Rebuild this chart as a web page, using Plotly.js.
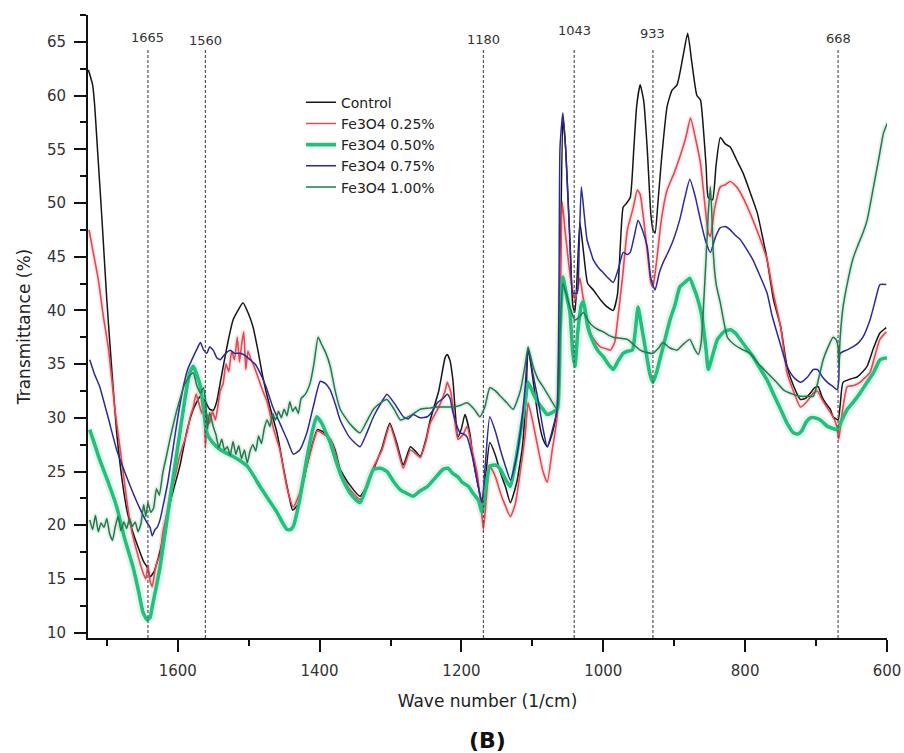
<!DOCTYPE html>
<html>
<head>
<meta charset="utf-8">
<script src="https://cdn.plot.ly/plotly-3.0.1.min.js"></script>
<style>html,body{margin:0;padding:0;background:#fff;}#chart{width:904px;height:753px;}</style>
</head>
<body>
<div id="chart"></div>
<script>
// ---- Data ----
const seriesNames = ["Control", "Fe3O4 0.25%", "Fe3O4 0.50%", "Fe3O4 0.75%", "Fe3O4 1.00%"];

const controlWn = [1726,1720,1717,1714,1707,1700,1693,1686,1678,1671,1663,1655,1648,1643,1639,1634,1628,1621,1610,1597,1587,1578,1568,1561,1555,1550,1545,1540,1530,1522,1515,1508,1501,1494,1487,1480,1470,1460,1450,1442,1438,1430,1418,1410,1403,1395,1385,1378,1371,1358,1343,1334,1324,1312,1301,1291,1282,1272,1265,1258,1250,1244,1232,1223,1220,1216,1212,1205,1200,1195,1188,1184,1176,1171,1166,1160,1152,1145,1138,1131,1122,1114,1109,1106,1100,1092,1085,1079,1071,1065,1061,1057,1053,1048,1043,1040,1037,1033,1028,1022,1014,1004,994,986,980,976,972,967,962,957,953,948,943,938,933,930,927,923,918,910,903,896,888,881,875,868,863,859,855,852,846,841,835,828,821,812,803,793,783,776,769,760,750,741,732,722,715,708,702,697,692,687,680,676,669,666,662,652,642,634,628,619,610,601];
const controlT = [62.4,61.0,59.0,55.9,48.7,41.0,34.5,28.6,24.0,21.2,19.3,17.8,16.6,16.1,15.2,15.6,16.8,18.7,22.3,25.5,28.8,30.8,32.0,31.5,30.8,30.7,31.5,33.3,36.8,39.1,40.0,40.7,39.8,38.5,36.3,33.8,31.0,28.6,25.0,22.4,21.4,22.0,25.5,27.6,28.9,28.7,28.0,27.0,25.2,23.8,22.7,23.6,25.2,27.2,29.5,27.6,25.6,27.3,26.9,26.4,28.0,29.8,32.5,35.6,35.9,35.3,33.5,28.2,29.0,30.3,28.5,26.4,23.5,22.1,24.5,27.7,26.5,24.9,23.6,22.1,24.0,27.3,32.0,36.5,34.0,30.1,28.0,27.3,28.8,30.8,41.0,58.0,55.0,48.0,40.5,39.8,43.0,48.2,45.5,42.5,41.9,41.0,40.3,40.0,41.5,46.0,49.6,50.0,50.5,55.0,59.0,61.0,59.5,55.0,49.0,47.5,47.2,50.0,54.0,59.0,60.5,61.0,63.5,65.8,63.0,60.0,59.6,57.0,53.4,50.5,50.3,53.5,56.1,55.5,55.2,54.0,52.8,51.0,49.1,47.0,44.7,41.0,38.5,34.8,33.0,31.7,31.8,32.3,32.8,32.9,32.0,31.4,30.8,30.1,29.8,31.2,33.3,33.6,33.8,34.3,34.8,36.5,37.9,38.4];

const fe025Wn = [1725,1718,1712,1705,1698,1688,1680,1672,1665,1657,1649,1645,1642,1639,1636,1632,1629,1625,1621,1614,1607,1597,1587,1582,1578,1574,1570,1566,1563,1561,1558,1555,1551,1547,1544,1540,1536,1532,1528,1524,1520,1516,1513,1510,1507,1504,1501,1497,1493,1488,1480,1474,1465,1456,1446,1437,1428,1418,1410,1403,1395,1385,1378,1371,1358,1343,1334,1324,1312,1301,1291,1282,1272,1265,1258,1250,1244,1232,1223,1220,1215,1210,1205,1198,1192,1185,1178,1172,1169,1165,1160,1152,1145,1138,1131,1124,1117,1110,1106,1100,1093,1085,1079,1072,1065,1061,1058,1054,1046,1040,1036,1033,1028,1022,1018,1010,1004,995,990,984,980,973,966,958,952,948,944,938,933,930,925,918,910,900,892,884,877,870,863,857,852,849,843,835,828,821,812,807,798,789,778,769,760,750,741,732,722,713,704,698,694,687,680,674,670,668,665,662,656,647,638,630,624,617,610,601];
const fe025T = [47.5,45.0,42.9,39.5,36.6,30.5,26.5,22.4,19.5,17.4,15.6,15.0,16.3,14.8,14.3,15.8,16.6,17.2,19.3,21.5,23.6,26.5,28.6,30.2,31.0,32.2,31.3,30.4,31.5,27.2,30.3,29.5,30.6,29.8,30.8,32.5,33.2,35.0,34.3,36.2,35.4,37.5,35.2,36.8,38.0,34.5,36.2,35.5,34.9,34.0,32.5,31.5,29.0,27.0,23.5,21.7,23.0,25.5,27.5,28.8,28.5,28.0,26.8,25.0,23.4,22.4,23.5,25.4,27.0,29.3,27.3,25.3,27.0,26.7,26.3,27.8,29.5,31.0,32.5,33.3,32.4,30.0,28.0,28.4,29.2,27.0,24.9,21.5,19.6,22.5,25.5,24.5,23.0,21.8,20.8,22.0,25.0,28.5,31.4,29.8,27.5,25.0,24.0,27.0,30.1,40.0,50.1,47.5,42.9,41.0,42.0,43.0,41.0,39.0,37.9,37.0,36.6,36.4,36.3,37.0,39.0,43.0,47.5,49.5,51.2,50.8,49.0,45.5,42.6,42.2,44.5,48.5,51.2,52.8,54.3,56.0,57.9,56.0,53.7,50.0,47.2,46.9,49.5,51.5,51.7,52.0,51.5,51.0,49.8,48.4,46.5,44.7,41.5,38.5,34.2,32.5,31.0,31.5,32.3,32.5,32.0,31.2,30.5,29.8,29.0,28.0,29.5,31.0,32.9,33.0,33.3,33.8,34.2,35.8,37.3,38.0];

const fe050Wn = [1724,1717,1710,1698,1686,1675,1663,1655,1649,1643,1639,1636,1631,1625,1618,1611,1604,1597,1590,1583,1578,1573,1568,1563,1559,1552,1545,1534,1522,1512,1502,1492,1484,1472,1460,1452,1446,1441,1437,1428,1418,1410,1404,1397,1391,1385,1376,1367,1355,1343,1334,1324,1314,1305,1295,1286,1278,1268,1258,1248,1237,1226,1219,1212,1205,1199,1190,1184,1176,1171,1166,1160,1152,1145,1138,1131,1124,1117,1110,1106,1099,1092,1085,1079,1072,1065,1061,1057,1053,1047,1043,1040,1036,1031,1028,1022,1014,1007,1000,993,986,979,972,966,959,955,951,946,940,934,930,925,920,913,906,899,892,885,878,873,868,862,859,855,852,846,839,830,821,814,807,798,789,779,769,760,750,741,732,725,720,714,708,702,694,689,684,676,670,665,656,647,638,628,619,610,600];
const fe050T = [28.9,27.5,26.1,24.0,21.7,18.8,16.1,13.8,11.9,11.2,11.4,12.4,14.0,16.1,19.2,22.4,25.5,28.6,31.7,34.2,34.8,34.0,32.9,30.5,28.6,27.8,27.3,26.8,26.4,26.0,25.5,24.5,23.6,22.4,21.2,20.2,19.6,19.6,19.9,22.4,26.2,28.8,30.1,29.5,28.6,27.7,25.8,24.2,22.8,22.1,23.5,25.2,25.3,25.0,24.0,23.3,23.0,22.7,23.2,23.6,24.4,25.2,25.3,24.8,24.5,24.0,23.6,23.0,22.3,21.2,23.4,25.5,25.6,25.2,24.3,23.6,25.8,28.6,31.5,33.3,32.3,31.4,30.8,30.3,30.5,30.8,38.0,43.1,41.8,39.8,36.0,34.8,38.0,40.5,40.8,38.5,37.0,36.2,35.7,35.0,34.5,35.3,36.0,36.2,36.3,38.0,40.3,38.5,36.2,34.0,33.3,34.2,35.5,37.3,39.1,40.5,42.2,42.6,43.0,42.2,41.3,39.8,38.5,36.3,34.5,35.8,37.3,38.0,38.2,37.9,37.3,36.5,35.7,34.6,33.5,32.2,30.8,29.5,28.6,28.5,28.8,29.6,30.0,30.0,29.8,29.5,29.2,29.0,28.9,29.6,30.8,31.5,32.3,33.3,34.2,35.4,35.6];

const fe075Wn = [1724,1717,1710,1698,1686,1675,1663,1653,1643,1639,1636,1632,1629,1625,1621,1614,1607,1600,1593,1586,1578,1573,1568,1564,1559,1555,1550,1545,1540,1534,1526,1520,1512,1505,1498,1491,1484,1475,1466,1456,1446,1437,1428,1418,1409,1399,1392,1385,1378,1371,1358,1343,1334,1324,1314,1305,1294,1282,1275,1268,1258,1248,1240,1234,1226,1220,1216,1212,1206,1202,1197,1192,1185,1178,1171,1166,1160,1152,1145,1138,1131,1124,1117,1110,1106,1099,1092,1085,1079,1072,1065,1061,1057,1053,1050,1046,1043,1037,1034,1031,1027,1023,1018,1014,1007,1000,993,986,979,972,966,962,956,951,945,938,933,927,921,916,908,901,892,885,878,870,863,856,849,842,835,828,821,814,807,798,789,779,769,762,755,748,741,732,722,712,704,698,691,684,676,670,668,666,657,648,640,634,624,617,610,601];
const fe075T = [35.4,34.0,32.9,30.0,27.0,25.0,23.0,21.5,20.2,19.8,19.0,19.6,19.8,20.5,21.7,24.0,27.0,30.0,32.6,34.5,35.7,36.4,37.0,36.4,36.0,36.6,36.3,35.6,35.4,35.9,36.3,36.0,36.0,35.8,35.4,35.0,34.2,32.8,31.0,29.5,28.0,26.6,27.0,28.6,31.0,33.4,33.2,32.6,31.3,29.8,28.2,27.3,28.5,30.1,31.3,32.2,31.3,30.1,29.9,30.3,30.0,30.1,30.7,31.4,31.8,32.2,31.8,30.5,29.2,28.6,28.5,28.2,26.5,24.2,22.1,26.0,30.1,28.7,27.0,25.5,24.2,25.8,28.6,33.0,36.5,34.0,31.7,29.0,27.3,28.8,30.8,55.2,58.4,55.0,50.6,45.0,41.6,41.6,46.0,51.5,49.0,46.6,45.5,44.7,44.0,43.5,43.0,42.6,43.8,45.4,45.2,45.4,47.0,48.4,47.5,45.9,43.0,41.9,43.5,44.4,45.5,46.6,48.5,50.5,52.2,50.5,48.4,46.5,45.4,46.8,47.7,47.8,47.5,47.0,46.6,45.7,44.7,43.2,41.6,39.5,37.9,36.3,34.8,33.8,33.3,33.8,34.5,34.5,33.8,33.3,32.9,32.6,33.5,36.0,36.3,36.6,37.0,37.5,39.1,40.8,42.4,42.4];

const fe100Wn = [1724,1720,1716,1712,1708,1704,1700,1696,1692,1688,1684,1680,1676,1672,1668,1664,1660,1656,1652,1648,1645,1642,1638,1634,1630,1626,1621,1616,1611,1604,1597,1592,1587,1582,1578,1573,1568,1564,1561,1558,1555,1550,1546,1542,1538,1534,1530,1526,1522,1518,1514,1510,1506,1502,1498,1494,1490,1486,1482,1478,1474,1470,1466,1462,1458,1454,1450,1446,1442,1438,1434,1430,1426,1420,1413,1408,1402,1397,1391,1385,1378,1371,1358,1343,1334,1324,1314,1305,1295,1286,1272,1258,1246,1234,1220,1212,1200,1192,1182,1174,1167,1160,1152,1145,1136,1127,1117,1110,1106,1099,1092,1085,1075,1065,1061,1057,1052,1047,1040,1035,1028,1021,1014,1007,1000,993,986,976,966,957,948,940,930,922,916,906,896,888,878,872,866,862,859,855,852,849,847,845,841,835,825,815,805,793,781,769,757,746,733,722,712,704,698,690,683,676,672,669,668,666,662,656,648,642,634,628,619,610,605,599];
const fe100T = [20.5,19.6,20.9,19.4,20.2,19.8,20.6,19.2,18.6,19.9,20.8,19.5,20.3,19.7,20.6,19.9,20.3,19.4,20.1,21.9,20.8,22.1,21.2,21.6,23.4,22.8,24.9,26.4,28.0,30.0,31.7,32.8,33.5,34.0,34.2,33.0,32.3,32.8,31.7,29.0,30.5,29.2,28.4,27.2,28.0,27.0,27.3,26.5,27.8,26.6,27.4,26.2,27.0,25.8,26.9,27.5,26.9,28.3,27.6,29.0,29.8,29.2,30.4,29.8,30.6,30.0,30.8,30.2,31.5,30.6,31.0,30.4,31.8,32.2,33.3,35.0,37.5,36.8,36.0,34.8,32.5,30.8,29.5,28.6,29.6,30.8,31.4,31.7,30.8,29.8,30.2,30.8,30.9,31.0,31.0,31.0,31.2,31.4,30.8,30.1,31.0,32.8,32.5,32.0,31.4,30.8,32.5,35.0,36.6,34.8,33.6,32.9,31.8,30.8,38.0,42.5,41.5,40.3,39.1,39.3,39.8,39.0,38.5,38.2,38.0,37.7,37.5,37.4,37.3,36.8,36.3,36.1,36.0,36.5,37.0,36.5,36.3,36.8,37.3,36.5,35.9,37.0,40.0,45.0,49.0,51.5,49.0,45.4,42.5,40.7,37.5,36.8,36.4,36.0,35.0,34.2,33.4,32.6,32.2,32.0,32.0,32.0,33.2,35.4,36.6,37.5,37.3,36.6,34.8,37.5,40.3,42.5,44.8,45.9,47.2,48.4,51.5,54.7,56.5,57.5];

// marked band positions and their printed labels
const bandWn = [1642, 1561, 1169, 1041, 930, 669];
const bandLabels = ["1665", "1560", "1180", "1043", "933", "668"];

// ---- Styling ----
const FONT = "DejaVu Sans, Verdana, sans-serif";
const colors = ["#161616", "#e04a55", "#22c07c", "#2b2a96", "#1f7a4c"];
const widths = [1.5, 1.6, 3.6, 1.5, 1.5];
const labelY = [65.4, 65.1, 65.2, 66.1, 65.8, 65.3];

const xs = [controlWn, fe025Wn, fe050Wn, fe075Wn, fe100Wn];
const ys = [controlT, fe025T, fe050T, fe075T, fe100T];

const traces = [];
// soft glow under the coloured series (visual halo as in reference)
[1, 2, 4].forEach(i => {
  traces.push({
    x: xs[i], y: ys[i], type: "scatter", mode: "lines",
    line: {color: colors[i], width: i === 2 ? 9 : 5, shape: "spline", smoothing: 0.5},
    opacity: 0.12, showlegend: false, hoverinfo: "skip"
  });
});
seriesNames.forEach((name, i) => {
  traces.push({
    x: xs[i], y: ys[i], type: "scatter", mode: "lines", name: name,
    line: {color: colors[i], width: widths[i], shape: "spline", smoothing: 0.5}
  });
});

const shapes = bandWn.map(w => ({
  type: "line", xref: "x", yref: "y", x0: w, x1: w, y0: 9.5, y1: 64.3,
  line: {color: "#555", width: 1.2, dash: "3px,2px"}
}));

const annotations = bandWn.map((w, i) => ({
  x: w, y: labelY[i], xref: "x", yref: "y", text: bandLabels[i],
  showarrow: false, font: {family: FONT, size: 13, color: "#333"}, yanchor: "middle"
}));
annotations.push({
  x: 0.5, y: -0.165, xref: "paper", yref: "paper", text: "<b>(B)</b>",
  showarrow: false, font: {family: FONT, size: 22, color: "#111"}, yanchor: "middle"
});

const layout = {
  width: 904, height: 753,
  margin: {l: 88, r: 17, t: 15, b: 115},
  paper_bgcolor: "#fff", plot_bgcolor: "#fff",
  font: {family: FONT, size: 14, color: "#333"},
  showlegend: true,
  legend: {
    x: 0.2666, y: 0.885, xanchor: "left", yanchor: "top",
    bgcolor: "rgba(0,0,0,0)", borderwidth: 0,
    font: {family: FONT, size: 14, color: "#222"},
    tracegroupgap: 0
  },
  xaxis: {
    range: [1726.5, 600], autorange: false,
    tickmode: "array", tickvals: [1600, 1400, 1200, 1000, 800, 600],
    ticks: "outside", ticklen: 12, tickwidth: 2, tickcolor: "#111",
    ticklabelstandoff: 6,
    minor: {tickmode: "array", tickvals: [1700, 1500, 1300, 1100, 900, 700], ticks: "outside", ticklen: 6, tickwidth: 2, tickcolor: "#111", showgrid: false},
    showline: true, linewidth: 2, linecolor: "#111", mirror: false,
    showgrid: false, zeroline: false,
    tickfont: {family: FONT, size: 15, color: "#333"},
    title: {text: "Wave number (1/cm)", font: {family: FONT, size: 17, color: "#222"}, standoff: 16}
  },
  yaxis: {
    range: [9.5, 67.5], autorange: false,
    tickmode: "linear", tick0: 10, dtick: 5,
    ticks: "outside", ticklen: 12, tickwidth: 2, tickcolor: "#111",
    ticklabelstandoff: 5,
    minor: {dtick: 2.5, ticks: "outside", ticklen: 6, tickwidth: 2, tickcolor: "#111", showgrid: false},
    showline: true, linewidth: 2, linecolor: "#111", mirror: false,
    showgrid: false, zeroline: false,
    tickfont: {family: FONT, size: 15, color: "#333"},
    title: {text: "Transmittance (%)", font: {family: FONT, size: 17, color: "#222"}, standoff: 12}
  },
  shapes: shapes,
  annotations: annotations
};

Plotly.newPlot("chart", traces, layout, {displayModeBar: false, staticPlot: true});
</script>
</body>
</html>
